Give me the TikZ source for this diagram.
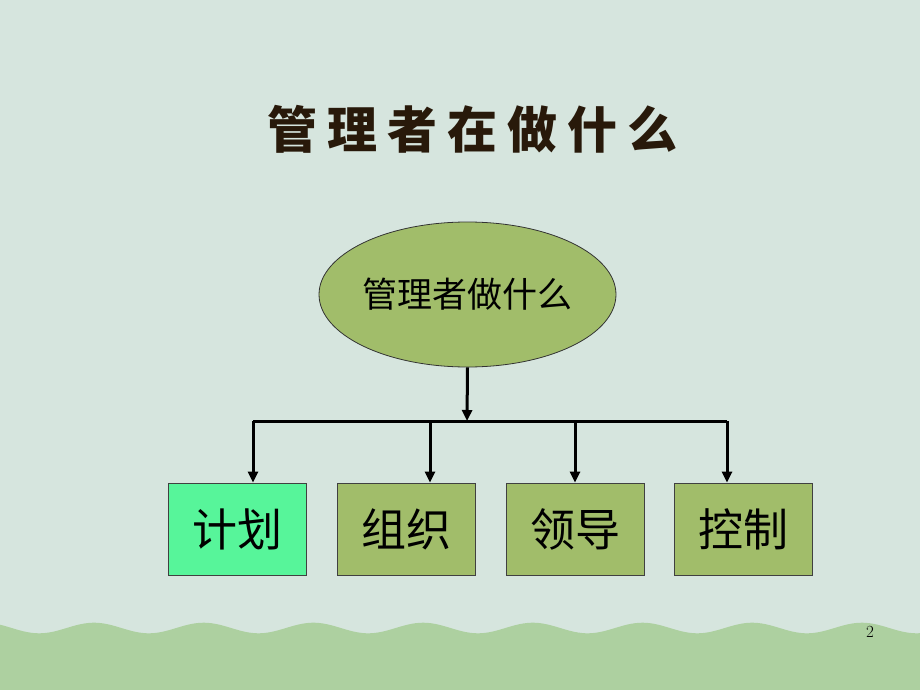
\documentclass[tikz,border=0pt]{standalone}
\usepackage{fontspec}
\newfontfamily\cjk{Noto Sans CJK SC}
\newfontfamily\cjktitle[LetterSpace=20]{Noto Sans CJK SC}
\usepackage{tikz}
\usetikzlibrary{arrows.meta,shapes.geometric}
\definecolor{bgcol}{RGB}{214,229,222}
\definecolor{wavecol}{RGB}{173,208,160}
\definecolor{olive}{RGB}{161,189,106}
\definecolor{mint}{RGB}{87,245,154}
\definecolor{titlecol}{RGB}{40,25,10}

\begin{document}
\begin{tikzpicture}[x=1pt, y=-1pt,
every edge/.style = {draw, -{Triangle[length=11pt,width=10pt]}, line width=3pt, black},
      task/.style = {draw=black!75, line width=0.8pt, fill=olive,
                     minimum width=138pt, minimum height=92pt,
                     font=\cjk\fontsize{45}{49}\selectfont},
      root/.style = {ellipse, draw=black!80, line width=0.8pt, fill=olive,
                     minimum width=245pt, minimum height=145pt, inner sep=0pt,
                     font=\cjk\fontsize{35}{39}\selectfont}
                    ]
% background and wave
\fill[bgcol] (0,0) rectangle (920,690);
\fill[wavecol] (0,690) -- plot[domain=0:920, samples=240]
      (\x,{628-5.3*cos(3.2817*(\x-94))}) -- (920,690) -- cycle;

\node (title) at (472,129) {\cjktitle\bfseries\fontsize{50}{54}\selectfont\color{titlecol}管理者在做什么};

\node[root] (what) at (467.5,294.5) {管理者做什么};

\node[task, fill=mint] (plan) at (237,529)   {计划};
\node[task]            (org)  at (406.5,529) {组织};
\node[task]            (lead) at (575.5,529) {领导};
\node[task]            (ctrl) at (743.5,529) {控制};

\coordinate (hub) at (467,421);
\coordinate (b1)  at (253,421);
\coordinate (b2)  at (430,421);
\coordinate (b3)  at (575,421);
\coordinate (b4)  at (727,421);

\draw[line width=3pt] (b1) -- (b4);
\draw   (what.south) edge (hub)
        (b1) edge (b1 |- plan.north)
        (b2) edge (b2 |- org.north)
        (b3) edge (b3 |- lead.north)
        (b4) edge (b4 |- ctrl.north);

\node (page) at (870,632) {\fontsize{17}{20}\selectfont 2};
\end{tikzpicture}
\end{document}
